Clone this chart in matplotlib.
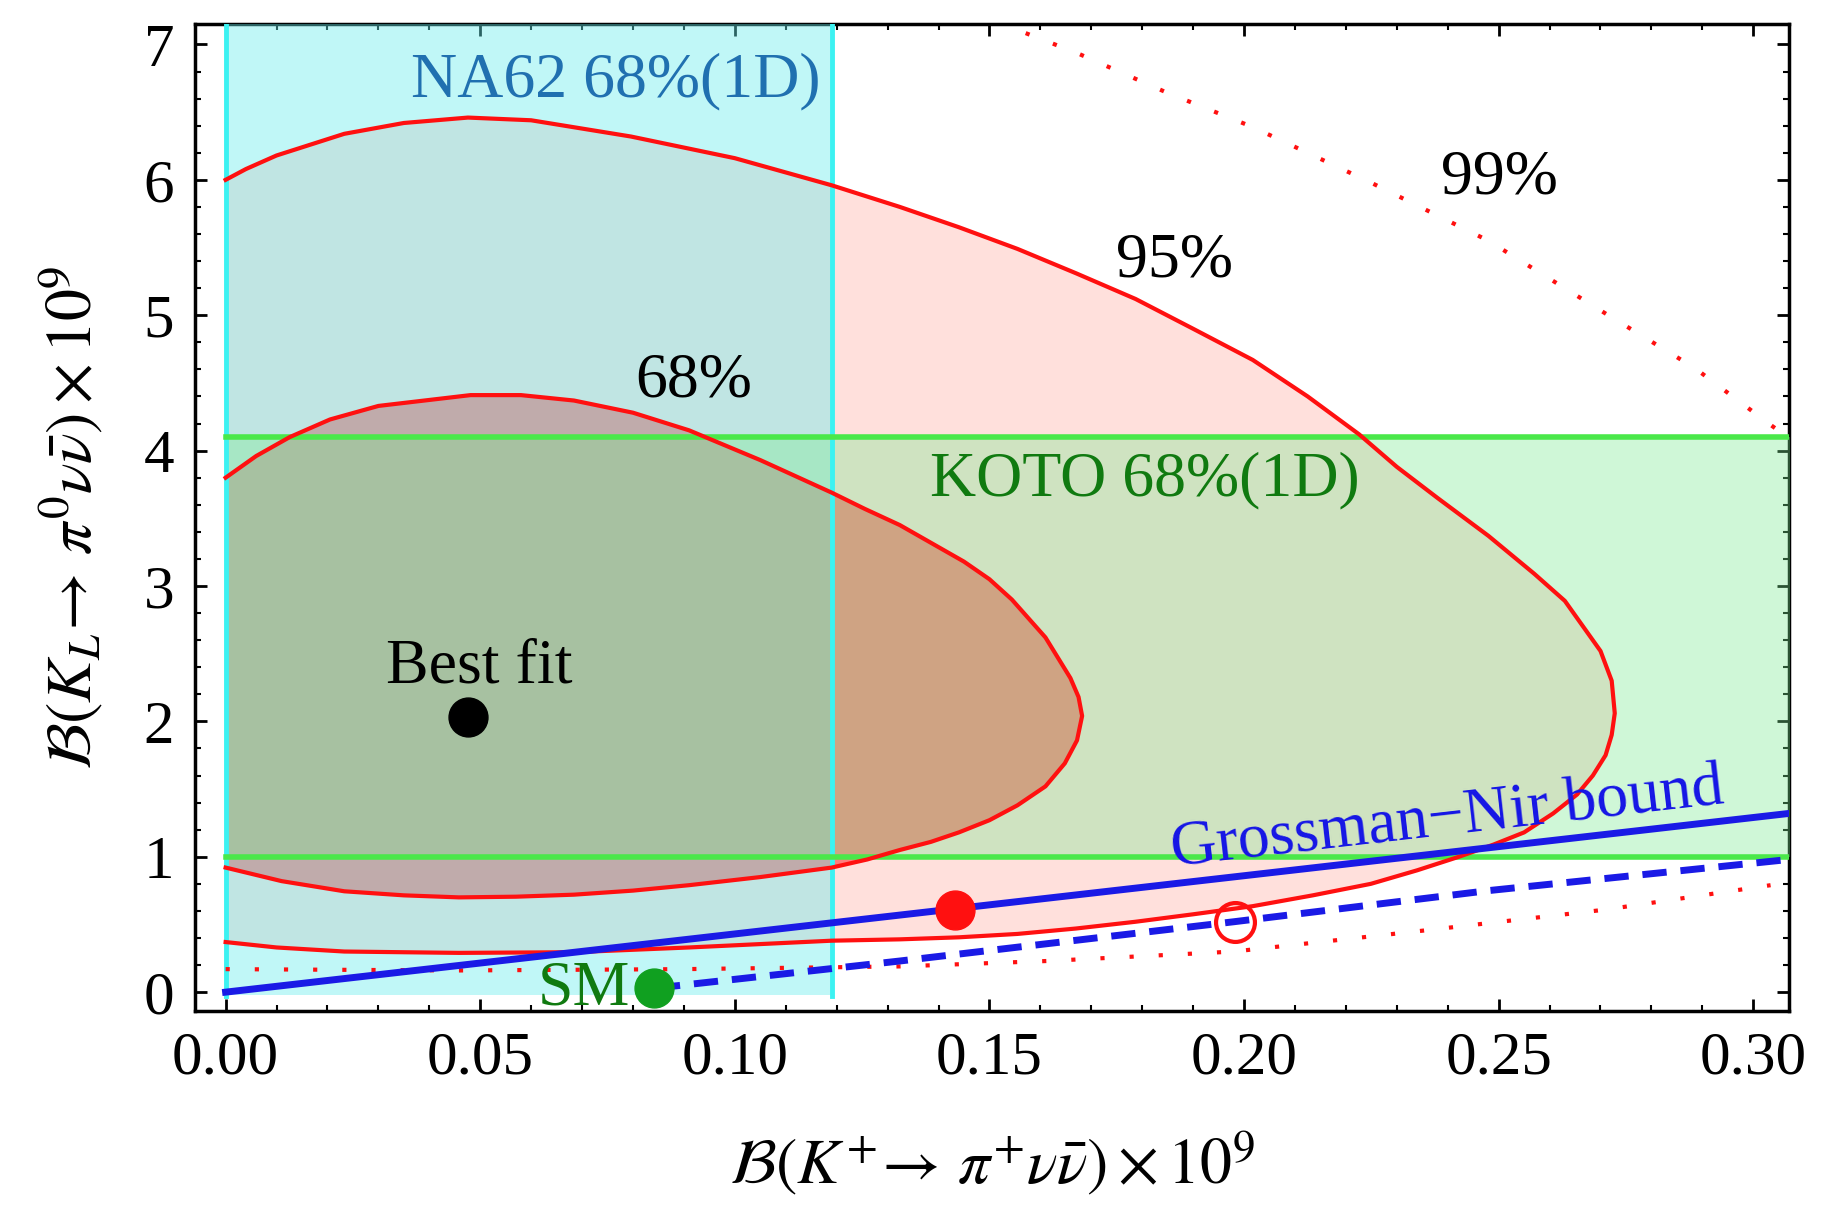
import numpy as np
import matplotlib.pyplot as plt
from matplotlib.ticker import MultipleLocator, FormatStrFormatter

plt.rcParams['font.family'] = ['Liberation Serif', 'DejaVu Serif']
plt.rcParams['mathtext.fontset'] = 'stix'

# contour lines (x = B(K+), y = B(KL), both x 1e9)
k95_x = [0.0, 0.004, 0.010, 0.0233, 0.035, 0.0476, 0.060, 0.0796, 0.100, 0.119, 0.1324,
         0.1440, 0.1555, 0.1670, 0.1787, 0.1900, 0.2017, 0.2125, 0.2226, 0.2300, 0.2380, 0.2480,
         0.2570, 0.2630, 0.2700, 0.2722, 0.2728, 0.2722, 0.2710, 0.2685, 0.2654, 0.2607,
         0.2550, 0.2490, 0.2422, 0.2340, 0.2249, 0.2135, 0.2017, 0.1900, 0.1787, 0.1670,
         0.1555, 0.1440, 0.1324, 0.119, 0.105, 0.091, 0.0684, 0.0458, 0.0233, 0.010, 0.0]
k95_y = [6.00, 6.08, 6.18, 6.34, 6.42, 6.46, 6.44, 6.32, 6.16, 5.96, 5.80,
         5.65, 5.49, 5.31, 5.12, 4.90, 4.67, 4.40, 4.12, 3.88, 3.65, 3.37,
         3.09, 2.89, 2.52, 2.30, 2.06, 1.90, 1.75, 1.60, 1.46, 1.32,
         1.18, 1.09, 1.00, 0.90, 0.80, 0.715, 0.635, 0.575, 0.52, 0.47,
         0.43, 0.405, 0.39, 0.38, 0.355, 0.33, 0.295, 0.29, 0.30, 0.33, 0.37]

k68_x = [0.0, 0.006, 0.0126, 0.0205, 0.030, 0.0481, 0.058, 0.0684, 0.080, 0.091,
         0.105, 0.119, 0.1255, 0.1324, 0.145, 0.150, 0.1544, 0.1610, 0.1659, 0.1675,
         0.1682, 0.1672, 0.1648, 0.1610, 0.1555, 0.150, 0.144, 0.1385, 0.1324, 0.126,
         0.119, 0.105, 0.091, 0.080, 0.0684, 0.057, 0.0458, 0.035, 0.0233, 0.011, 0.0]
k68_y = [3.80, 3.96, 4.10, 4.23, 4.33, 4.41, 4.41, 4.37, 4.28, 4.15,
         3.93, 3.69, 3.57, 3.45, 3.18, 3.05, 2.90, 2.62, 2.32, 2.18,
         2.04, 1.86, 1.69, 1.52, 1.38, 1.27, 1.18, 1.11, 1.05, 0.98,
         0.92, 0.85, 0.79, 0.75, 0.72, 0.705, 0.70, 0.715, 0.745, 0.82, 0.92]

k99_upper_x = [0.152, 0.156, 0.167, 0.1845, 0.2017, 0.2249, 0.248, 0.2711, 0.2885, 0.3034, 0.306]
k99_upper_y = [7.18, 7.10, 6.94, 6.65, 6.39, 5.98, 5.55, 5.01, 4.61, 4.19, 4.12]
k99_lower_x = [0.0, 0.045, 0.09, 0.1324, 0.1613, 0.198, 0.2365, 0.2711, 0.3034]
k99_lower_y = [0.17, 0.16, 0.17, 0.19, 0.23, 0.30, 0.46, 0.61, 0.79]

gn_x = [0.0, 0.307]
gn_y = [0.0, 1.32]
gn_shift_x = [0.0845, 0.1324, 0.198, 0.248, 0.307]
gn_shift_y = [0.03, 0.23, 0.52, 0.75, 0.98]

na62_range = [0.0, 0.119]
koto_range = [1.0, 4.1]

best_fit = (0.0476, 2.03)
sm_point = (0.0842, 0.03)
red_dot = (0.1433, 0.61)
red_open = (0.1983, 0.52)

fig = plt.figure(figsize=(18.23, 12.08), dpi=100)
ax = fig.add_axes([0.107, 0.163, 0.8743, 0.817])

# filled confidence regions
ax.fill(k95_x, k95_y, color='#ffe0dc', lw=0, zorder=1)
ax.fill(k68_x, k68_y, color='#ff7c7c', lw=0, zorder=2)

# experimental bands
ax.fill_between(na62_range, -0.02, 7.3, color='#69eeee', alpha=0.42, lw=0, zorder=3)
ax.fill_between([0.0, 0.31], koto_range[0], koto_range[1], color='#7aeb91', alpha=0.355, lw=0, zorder=4)
for xv in na62_range:
    ax.plot([xv, xv], [-0.03, 7.3], color='#3cf2f2', lw=3.5, zorder=5)
for yv in koto_range:
    ax.plot([0.0, 0.31], [yv, yv], color='#4ae84a', lw=4, zorder=5)

# contour lines
ax.plot(k95_x, k95_y, color='#ff1010', lw=3, zorder=6)
ax.plot(k68_x, k68_y, color='#ff1010', lw=3, zorder=6)
ax.plot(k99_upper_x, k99_upper_y, color='#ff1010', lw=3, ls=(0, (1, 6)), zorder=6)
ax.plot(k99_lower_x, k99_lower_y, color='#ff1010', lw=3, ls=(0, (1, 6)), zorder=6)

# Grossman-Nir bound
ax.plot(gn_x, gn_y, color='#1a1ae6', lw=5, zorder=7)
ax.plot(gn_shift_x, gn_shift_y, color='#1a1ae6', lw=5, dashes=(3.5, 2), zorder=7)

# points
ax.plot(*best_fit, 'o', color='black', ms=28, zorder=8)
ax.plot(*sm_point, 'o', color='#10a020', ms=28, zorder=8)
ax.plot(*red_dot, 'o', color='#ff1010', ms=28, zorder=8)
ax.plot(*red_open, 'o', mfc='none', mec='#ff1010', mew=3, ms=28, zorder=8)

fs = 46
ax.text(0.0767, 6.73, 'NA62 68%(1D)', color='#2070b0', fontsize=fs, ha='center', va='center', zorder=9)
ax.text(0.0920, 4.51, '68%', color='black', fontsize=fs, ha='center', va='center', zorder=9)
ax.text(0.1863, 5.40, '95%', color='black', fontsize=fs, ha='center', va='center', zorder=9)
ax.text(0.2502, 6.01, '99%', color='black', fontsize=fs, ha='center', va='center', zorder=9)
ax.text(0.1806, 3.78, 'KOTO 68%(1D)', color='#107a10', fontsize=fs, ha='center', va='center', zorder=9)
ax.text(0.0498, 2.40, 'Best fit', color='black', fontsize=fs, ha='center', va='center', zorder=9)
ax.text(0.0795, 0.02, 'SM', color='#107a10', fontsize=fs, ha='right', va='center', zorder=9)
ax.text(0.2400, 1.27, 'Grossman\u2212Nir bound', color='#1515e6', fontsize=fs, ha='center',
        va='center', rotation=6.5, rotation_mode='anchor', zorder=9)

ax.set_xlim(-0.006, 0.307)
ax.set_ylim(-0.14, 7.15)

ax.xaxis.set_major_locator(MultipleLocator(0.05))
ax.xaxis.set_minor_locator(MultipleLocator(0.01))
ax.xaxis.set_major_formatter(FormatStrFormatter('%.2f'))
ax.yaxis.set_major_locator(MultipleLocator(1))
ax.yaxis.set_minor_locator(MultipleLocator(0.2))
ax.tick_params(which='both', direction='in', top=True, right=True, labelsize=44)
ax.tick_params(which='major', length=8.5, width=2)
ax.tick_params(which='minor', length=4.5, width=1.5)
ax.tick_params(axis='x', pad=14)
ax.tick_params(axis='y', pad=15)
for sp in ax.spines.values():
    sp.set_linewidth(2.5)

ax.set_xlabel(r'$\mathcal{B}(K^{+}\!\rightarrow\,\pi^{+}\nu\bar{\nu})\times10^{9}$', fontsize=fs)
ax.set_ylabel(r'$\mathcal{B}(K_L\!\rightarrow\,\pi^{0}\nu\bar{\nu})\times10^{9}$', fontsize=fs)
ax.xaxis.label.set_verticalalignment('center')
ax.yaxis.label.set_verticalalignment('center')
ax.xaxis.set_label_coords(0.5, -0.154)
ax.yaxis.set_label_coords(-0.078, 0.5)

fig.savefig('out.png', dpi=100)
